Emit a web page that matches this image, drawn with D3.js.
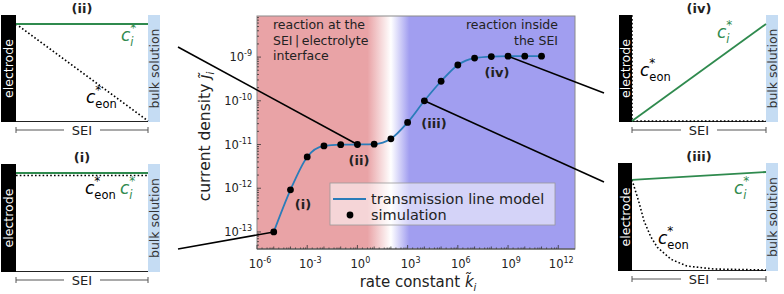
<!DOCTYPE html>
<html>
<head>
<meta charset="utf-8">
<script src="https://cdn.jsdelivr.net/npm/d3@7"></script>
<style>
  body { margin: 0; background: #fff; }
  svg { font-family: "DejaVu Sans", Verdana, sans-serif; }
</style>
</head>
<body>
<div id="viz"></div>
<script>
// ---- data ----
const rateConstants = [1e-5, 1e-4, 1e-3, 1e-2, 1e-1, 1e0, 1e1, 1e2, 1e3, 1e4, 1e5, 1e6, 1e7, 1e8, 1e9, 1e10, 1e11];
const currentSim = [1.0e-13, 9.2e-13, 5.2e-12, 9.3e-12, 9.9e-12, 1.0e-11, 1.02e-11, 1.35e-11, 3.2e-11, 1.0e-10, 2.8e-10, 6.6e-10, 9.5e-10, 1.03e-9, 1.05e-9, 1.05e-9, 1.05e-9];
const currentModel = [1.0e-13, 9.2e-13, 5.2e-12, 9.3e-12, 9.9e-12, 1.0e-11, 1.02e-11, 1.35e-11, 3.2e-11, 1.0e-10, 2.8e-10, 6.6e-10, 9.5e-10, 1.03e-9, 1.05e-9, 1.05e-9, 1.05e-9];
const xTickExps = [-6, -3, 0, 3, 6, 9, 12];
const yTickExps = [-13, -12, -11, -10, -9];
const regimeLabels = ["(i)", "(ii)", "(iii)", "(iv)"];
const regimeK = [1e-4, 1e0, 1e4, 1e9];   // which dot each label / inset belongs to

// concentration profiles in the insets: [position in SEI (0..1), concentration]
const profileI = { ci: [[0, 1], [1, 1]], ceon: [[0, 0.975], [1, 0.975]] };
const profileII = { ci: [[0, 1], [1, 1]], ceon: [[0, 1], [1, 0]] };
const profileIII = { ci: [[0, 0.92], [1, 1.0]], ceon: [[0, 0.92], [0.05, 0.7], [0.09, 0.5], [0.14, 0.34], [0.19, 0.23], [0.29, 0.11], [0.41, 0.04], [0.61, 0.01], [1, 0]] };
const profileIV = { ci: [[0, 0], [1, 1]], ceon: [[0, 1.09], [0, 0], [1, 0]] };

const colors = {
    red: "rgb(233,163,166)",
    blue: "rgb(161,158,240)",
    curve: "#2a7cb9",
    green: "#2f8a4e",
    bulk: "#c5dcf3",
    frame: "#8a8a8a",
}

const width = 784, height = 294;
const plot = { left: 257, right: 575, top: 16, bottom: 249 };

const svg = d3.select("#viz").append("svg").attr("width", width).attr("height", height);

const x = d3.scaleLog().domain([1e-6, 1e13]).range([plot.left, plot.right]);
const y = d3.scaleLog().domain([Math.pow(10, -13.39), Math.pow(10, -8.06)]).range([plot.bottom, plot.top]);

// background gradient: red -> white -> blue
const defs = svg.append("defs");
const grad = defs.append("linearGradient").attr("id", "bg").attr("gradientUnits", "userSpaceOnUse")
    .attr("x1", plot.left).attr("x2", plot.right).attr("y1", 0).attr("y2", 0);
const off = v => (x(v) - plot.left) / (plot.right - plot.left);
grad.append("stop").attr("offset", off(Math.pow(10, 0.6))).attr("stop-color", colors.red);
grad.append("stop").attr("offset", off(Math.pow(10, 2.0))).attr("stop-color", "#fff");
grad.append("stop").attr("offset", off(Math.pow(10, 3.1))).attr("stop-color", colors.blue);

svg.append("rect").attr("x", plot.left).attr("y", plot.top)
    .attr("width", plot.right - plot.left).attr("height", plot.bottom - plot.top)
    .attr("fill", "url(#bg)").attr("stroke", colors.frame).attr("stroke-width", 1);

// region texts
const regionText = (lines, tx, ty, anchor) => {
    const t = svg.append("text").attr("x", tx).attr("y", ty).attr("font-size", 12.5)
        .attr("fill", "#222").attr("text-anchor", anchor);
    lines.forEach((l, i) => t.append("tspan").attr("x", tx).attr("dy", i ? 15.5 : 0).text(l));
}
regionText(["reaction at the", "SEI\u2009|\u2009electrolyte", "interface"], 273, 29, "start");
regionText(["reaction inside", "the SEI"], 558, 29, "end");

// ticks (inside the frame)
const g = svg.append("g").attr("stroke", "#333").attr("stroke-width", 0.8);
for (let e = -6; e <= 12; e++) {
    const major = xTickExps.includes(e);
    g.append("line").attr("x1", x(Math.pow(10, e))).attr("x2", x(Math.pow(10, e)))
        .attr("y1", plot.bottom).attr("y2", plot.bottom - (major ? 4 : 2.5));
    if (e < 12) for (let m = 2; m < 10; m++) {
        if (m % 2) continue;
        g.append("line").attr("x1", x(m * Math.pow(10, e))).attr("x2", x(m * Math.pow(10, e)))
            .attr("y1", plot.bottom).attr("y2", plot.bottom - 1.5);
    }
}
for (let e = -14; e <= -8; e++) {
    for (let m = 1; m < 10; m++) {
        const v = m * Math.pow(10, e);
        if (y(v) > plot.bottom || y(v) < plot.top) continue;
        g.append("line").attr("x1", plot.left).attr("x2", plot.left + (m === 1 ? 4 : 2))
            .attr("y1", y(v)).attr("y2", y(v));
    }
}
svg.append("line").attr("x1", plot.left).attr("x2", plot.right).attr("y1", plot.bottom).attr("y2", plot.bottom)
    .attr("stroke", "#444").attr("stroke-width", 1);

const powLabel = (sel, e) => {
    sel.append("tspan").text("10");
    sel.append("tspan").attr("dy", -5).attr("font-size", 8).text(e < 0 ? "-" + (-e) : e);
}
xTickExps.forEach(e => {
    const t = svg.append("text").attr("x", x(Math.pow(10, e)) + 3).attr("y", plot.bottom + 19)
        .attr("text-anchor", "middle").attr("font-size", 11.5).attr("fill", "#222");
    powLabel(t, e);
});
yTickExps.forEach(e => {
    const t = svg.append("text").attr("x", plot.left - 5).attr("y", y(Math.pow(10, e)) + 4)
        .attr("text-anchor", "end").attr("font-size", 11.5).attr("fill", "#222");
    powLabel(t, e);
});

// axis titles
const xt = svg.append("text").attr("x", 418).attr("y", 287).attr("text-anchor", "middle")
    .attr("font-size", 15).attr("fill", "#222");
xt.append("tspan").text("rate constant  ");
xt.append("tspan").attr("font-style", "italic").text("k\u0303");
xt.append("tspan").attr("font-style", "italic").attr("font-size", 10).attr("dy", 4).text("i");

const yt = svg.append("text").attr("transform", `translate(210,${(plot.top + plot.bottom) / 2 + 4}) rotate(-90)`)
    .attr("text-anchor", "middle").attr("font-size", 15.5).attr("fill", "#222");
yt.append("tspan").text("current density  ");
yt.append("tspan").attr("font-style", "italic").text("j\u0303");
yt.append("tspan").attr("font-style", "italic").attr("font-size", 10).attr("dy", 4).text("i");

// connector lines from the dots to the insets
const connectors = [
    { k: regimeK[0] * 0.1, px: 178, py: 249 },
    { k: regimeK[1], px: 178, py: 47 },
    { k: regimeK[2], px: 604, py: 182 },
    { k: regimeK[3], px: 604, py: 93 },
];
connectors.forEach(c => {
    const i = rateConstants.indexOf(c.k);
    svg.append("line").attr("x1", x(c.k)).attr("y1", y(currentSim[i])).attr("x2", c.px).attr("y2", c.py)
        .attr("stroke", "#000").attr("stroke-width", 1.6);
});

// model curve and simulation dots
const line = d3.line().x(d => x(d[0])).y(d => y(d[1])).curve(d3.curveMonotoneX);
svg.append("path").attr("d", line(rateConstants.map((k, i) => [k, currentModel[i]])))
    .attr("fill", "none").attr("stroke", colors.curve).attr("stroke-width", 1.8);
svg.append("g").selectAll("circle").data(rateConstants).join("circle")
    .attr("cx", d => x(d)).attr("cy", (d, i) => y(currentSim[i])).attr("r", 3.4).attr("fill", "#000");

// regime labels
const labelPos = [[303, 209], [359, 165], [434, 128], [497, 77]];
regimeLabels.forEach((l, i) => svg.append("text").attr("x", labelPos[i][0]).attr("y", labelPos[i][1])
    .attr("text-anchor", "middle").attr("font-weight", "bold").attr("font-size", 13).attr("fill", "#222").text(l));

// legend
const lg = svg.append("g");
lg.append("rect").attr("x", 330).attr("y", 183).attr("width", 225).attr("height", 42)
    .attr("fill", "rgba(255,255,255,0.55)").attr("stroke", "#999").attr("stroke-width", 0.8);
lg.append("line").attr("x1", 333).attr("x2", 366).attr("y1", 199).attr("y2", 199)
    .attr("stroke", colors.curve).attr("stroke-width", 1.8);
lg.append("circle").attr("cx", 350).attr("cy", 215).attr("r", 3.4).attr("fill", "#000");
lg.append("text").attr("x", 371).attr("y", 204).attr("font-size", 14.5).attr("fill", "#222").text("transmission line model");
lg.append("text").attr("x", 371).attr("y", 220).attr("font-size", 14.5).attr("fill", "#222").text("simulation");

// ---- insets ----
// c* with subscript, as a single text: c, then * raised, then subscript pulled back under the star
const concLabel = (sel, tx, ty, sub, col, subItalic) => {
    const t = sel.append("text").attr("x", tx).attr("y", ty).attr("fill", col);
    t.append("tspan").attr("font-style", "italic").attr("font-size", 17).text("c");
    t.append("tspan").attr("font-size", 12).attr("dy", -9).attr("dx", 0).text("*");
    t.append("tspan").attr("font-size", 11.5).attr("font-style", subItalic ? "italic" : "normal")
        .attr("dx", -6).attr("dy", 14).text(sub);
}

const inset = (o) => {
    const gi = svg.append("g");
    const px = d3.scaleLinear().domain([0, 1]).range([o.x0, o.x1]);
    const py = d3.scaleLinear().domain([0, 1]).range([o.y1 - 1, o.y0 + 9]);
    gi.append("rect").attr("x", o.x0 - o.barL).attr("y", o.y0).attr("width", o.barL).attr("height", o.y1 - o.y0).attr("fill", "#000");
    gi.append("rect").attr("x", o.x1).attr("y", o.y0).attr("width", 12).attr("height", o.y1 - o.y0).attr("fill", colors.bulk);
    gi.append("line").attr("x1", o.x0).attr("x2", o.x1).attr("y1", o.y1 - 0.5).attr("y2", o.y1 - 0.5).attr("stroke", "#222").attr("stroke-width", 1);
    gi.append("text").attr("transform", `translate(${o.x0 - o.barL / 2 + 4.5},${(o.y0 + o.y1) / 2}) rotate(-90)`)
        .attr("text-anchor", "middle").attr("font-size", 12.5).attr("fill", "#fff").text("electrode");
    gi.append("text").attr("transform", `translate(${o.x1 + 10.5},${(o.y0 + o.y1) / 2}) rotate(-90)`)
        .attr("text-anchor", "middle").attr("font-size", 12.5).attr("fill", "#333").text("bulk solution");
    const pl = d3.line().x(d => px(d[0])).y(d => py(d[1]));
    gi.append("path").attr("d", pl(o.data.ceon)).attr("fill", "none").attr("stroke", "#000")
        .attr("stroke-width", 1.6).attr("stroke-dasharray", "1.6,2.2");
    gi.append("path").attr("d", pl(o.data.ci)).attr("fill", "none").attr("stroke", colors.green).attr("stroke-width", 1.8);
    gi.append("text").attr("x", (o.x0 + o.x1) / 2).attr("y", o.y0 - 2).attr("text-anchor", "middle")
        .attr("font-weight", "bold").attr("font-size", 13).attr("fill", "#222").text(o.title);
    // SEI bracket
    const by = o.y1 + 8;
    const cx = (o.x0 + o.x1) / 2;
    gi.append("path").attr("d", `M${o.x0},${by - 3}V${by + 3}M${o.x0},${by}H${cx - 18}M${cx + 18},${by}H${o.x1}M${o.x1},${by - 3}V${by + 3}`)
        .attr("fill", "none").attr("stroke", "#555").attr("stroke-width", 1);
    gi.append("text").attr("x", cx).attr("y", by + 5).attr("text-anchor", "middle").attr("font-size", 13).attr("fill", "#222").text("SEI");
    concLabel(gi, o.ci[0], o.ci[1], "i", colors.green, true);
    concLabel(gi, o.ceon[0], o.ceon[1], "eon", "#000", false);
}

inset({ title: "(ii)", x0: 16, x1: 148, y0: 15, y1: 122, barL: 15, data: profileII, ci: [121, 41], ceon: [86, 103] });
inset({ title: "(i)", x0: 16, x1: 148, y0: 164, y1: 272, barL: 15, data: profileI, ci: [120, 194], ceon: [85, 194] });
inset({ title: "(iv)", x0: 632, x1: 766, y0: 15, y1: 122, barL: 13, data: profileIV, ci: [717, 38], ceon: [640, 76] });
inset({ title: "(iii)", x0: 632, x1: 766, y0: 163, y1: 271, barL: 14, data: profileIII, ci: [734, 194], ceon: [658, 244] });
</script>
</body>
</html>
